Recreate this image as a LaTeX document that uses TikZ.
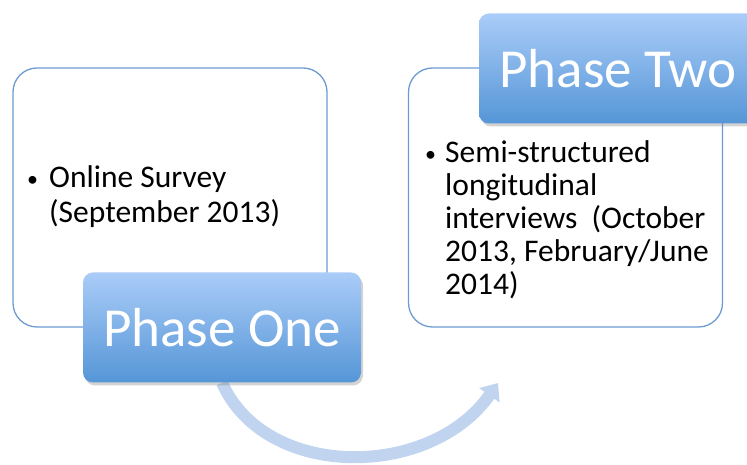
\documentclass[tikz,border=0pt]{standalone}
\usepackage{fontspec}
\setmainfont{Carlito}
\usetikzlibrary{positioning, shadows, arrows.meta, backgrounds}
\definecolor{boxline}{RGB}{108,155,210}
\definecolor{phasetop}{RGB}{170,204,248}
\definecolor{phasebot}{RGB}{85,150,215}
\definecolor{flowblue}{RGB}{192,212,240}
\newcommand{\dotmark}{\raisebox{1.5pt}{\fontsize{22}{22}\selectfont\textbullet}}

\begin{document}
\begin{tikzpicture}[x=1pt,y=1pt,on grid]
  \tikzstyle{stagebox}=[draw=boxline, line width=1.3pt, rounded corners=24pt, fill=white, minimum width=314pt, minimum height=259pt, inner sep=0pt]
  \tikzstyle{phasebox}=[rounded corners=10pt, top color=phasetop, bottom color=phasebot, text=white, minimum width=278pt, minimum height=110pt, font=\fontsize{55}{60}\selectfont, drop shadow={opacity=0.35, shadow xshift=2pt, shadow yshift=-3pt}]
  \tikzstyle{bullets}=[anchor=base west, inner sep=0pt, align=left, font=\fontsize{31.5}{33}\selectfont]

    \useasboundingbox (0,0) rectangle (747,465);
    \clip (0,0) rectangle (747,465);

    \node[stagebox] (s1) at (170,267.5)                     {};
    \node[stagebox] (s2) [right=395.5pt of s1]              {};
    \node[phasebox] (p1) [below right=130pt and 52pt of s1]   {Phase One};
    \node[phasebox] (p2) [above right=129pt and 52.5pt of s2] {Phase Two};

    \node[bullets, font=\fontsize{31.5}{35}\selectfont] (t1) at (27,277)
      {\begin{tabular}[t]{@{}l@{}l@{}}\makebox[22pt][l]{\dotmark} & Online Survey\\ & (September 2013)\end{tabular}};
    \node[bullets] (t2) at (425,302)
      {\begin{tabular}[t]{@{}l@{}l@{}}\makebox[20pt][l]{\dotmark} & Semi-structured\\ & longitudinal\\ & interviews~ (October\\ & 2013, February/June\\ & 2014)\end{tabular}};

    \coordinate (tip) at (498,82);
    \begin{scope}[on background layer]
      \draw[flowblue, line width=12pt, -{Triangle[width=24pt,length=15pt]}]
        (p1.south) .. controls (265,-15) and (430,-15) .. (tip);
    \end{scope}

\end{tikzpicture}
\end{document}
